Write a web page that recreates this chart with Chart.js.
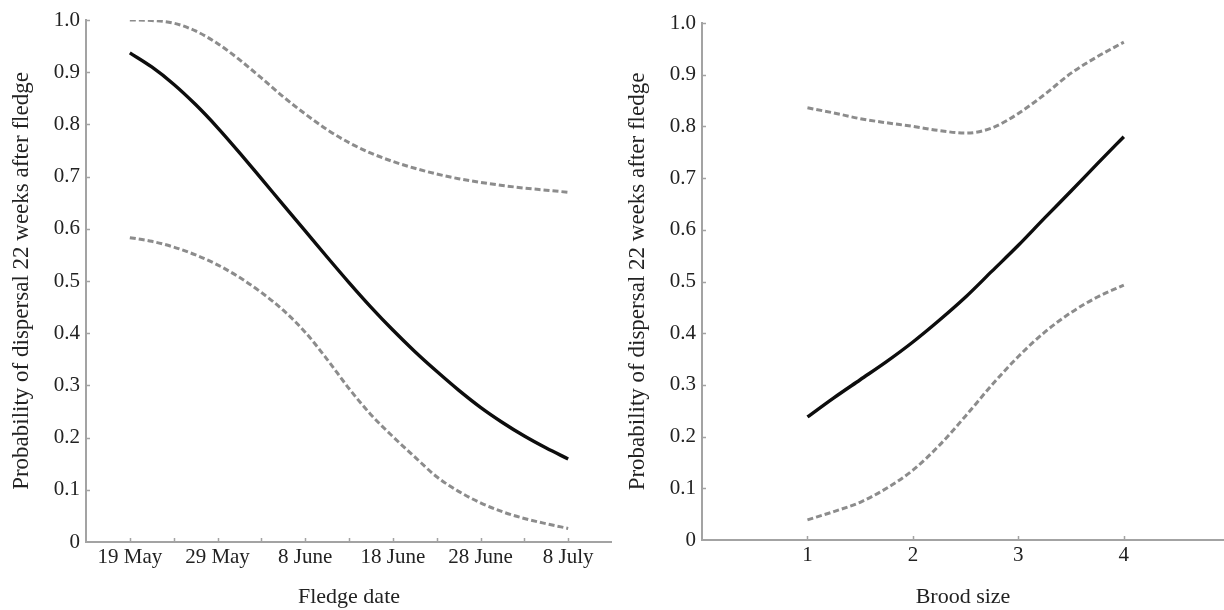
<!DOCTYPE html>
<html>
<head>
<meta charset="utf-8">
<script src="https://cdn.jsdelivr.net/npm/chart.js@4.4.1/dist/chart.umd.min.js"></script>
<style>
  html, body { margin: 0; padding: 0; background: #fff; }
  #wrap { position: relative; width: 1224px; height: 610px; overflow: hidden; }
  .panel { position: absolute; top: 0; width: 612px; height: 610px; }
  #left { left: 0; }
  #right { left: 612px; }
</style>
</head>
<body>
<div id="wrap">
  <div class="panel" id="left"><canvas id="dateChart" width="612" height="610"></canvas></div>
  <div class="panel" id="right"><canvas id="broodChart" width="612" height="610"></canvas></div>
</div>
<script>
// left panel: days after 19 May
const dateDays = [0, 2.5, 5, 7.5, 10, 12.5, 15, 17.5, 20, 22.5, 25, 27.5, 30, 32.5, 35, 37.5, 40, 42.5, 45, 47.5, 50];
const dateFit = [0.937, 0.910, 0.877, 0.838, 0.794, 0.746, 0.696, 0.646, 0.596, 0.546, 0.497, 0.450, 0.406, 0.365, 0.327, 0.291, 0.258, 0.229, 0.203, 0.180, 0.159];
const dateUpper = [1.000, 0.999, 0.994, 0.979, 0.955, 0.924, 0.889, 0.853, 0.820, 0.790, 0.765, 0.745, 0.729, 0.716, 0.705, 0.696, 0.689, 0.683, 0.678, 0.674, 0.670];
const dateLower = [0.583, 0.576, 0.565, 0.550, 0.531, 0.507, 0.478, 0.444, 0.402, 0.350, 0.294, 0.244, 0.202, 0.163, 0.125, 0.097, 0.075, 0.058, 0.045, 0.035, 0.026];
const dateTickDays = [0, 5, 10, 15, 20, 25, 30, 35, 40, 45, 50];
const dateLabelDays = [0, 10, 20, 30, 40, 50];
const dateLabels = ["19 May", "29 May", "8 June", "18 June", "28 June", "8 July"];

// right panel: brood size
const broodSizes = [1, 1.25, 1.5, 1.75, 2, 2.25, 2.5, 2.75, 3, 3.25, 3.5, 3.75, 4];
const broodFit = [0.238, 0.275, 0.310, 0.345, 0.383, 0.425, 0.470, 0.520, 0.570, 0.623, 0.675, 0.728, 0.780];
const broodUpper = [0.836, 0.826, 0.815, 0.807, 0.800, 0.792, 0.787, 0.797, 0.825, 0.862, 0.903, 0.935, 0.963];
const broodLower = [0.039, 0.055, 0.073, 0.100, 0.135, 0.183, 0.240, 0.300, 0.355, 0.402, 0.440, 0.470, 0.493];
const broodTicks = [1, 2, 3, 4];

const probTicks = [0, 0.1, 0.2, 0.3, 0.4, 0.5, 0.6, 0.7, 0.8, 0.9, 1.0];
const yTitle = "Probability of dispersal 22 weeks after fledge";

const AXIS_GREY = "#a3a3a3";
const TEXT = "#222";
const FONT = "'Liberation Serif', 'DejaVu Serif', serif";

// tick marks drawn inward from the axis lines
const innerTicks = {
  id: "innerTicks",
  afterDatasetsDraw(chart) {
    const { ctx, chartArea, scales } = chart;
    ctx.save();
    ctx.strokeStyle = AXIS_GREY;
    ctx.lineWidth = 1.5;
    ctx.beginPath();
    scales.x.ticks.forEach((t) => {
      const px = Math.round(scales.x.getPixelForValue(t.value)) + 0.5;
      ctx.moveTo(px, chartArea.bottom);
      ctx.lineTo(px, chartArea.bottom - 4);
    });
    scales.y.ticks.forEach((t) => {
      if (t.value === 0) return;
      const py = Math.round(scales.y.getPixelForValue(t.value)) + 0.5;
      ctx.moveTo(chartArea.left, py);
      ctx.lineTo(chartArea.left + 4, py);
    });
    ctx.stroke();
    ctx.restore();
  },
};

function series(xs, ys, dashed) {
  return {
    data: xs.map((x, i) => ({ x, y: ys[i] })),
    borderColor: dashed ? "#8c8c8c" : "#0d0d0d",
    borderWidth: dashed ? 3 : 3.4,
    borderDash: dashed ? [6, 3] : [],
    cubicInterpolationMode: "monotone",
    pointRadius: 0,
    fill: false,
  };
}

function makeChart(canvasId, cfg) {
  return new Chart(document.getElementById(canvasId), {
    type: "line",
    data: {
      datasets: [
        series(cfg.xs, cfg.upper, true),
        series(cfg.xs, cfg.lower, true),
        series(cfg.xs, cfg.fit, false),
      ],
    },
    options: {
      responsive: false,
      animation: false,
      devicePixelRatio: 1,
      layout: { padding: cfg.padding },
      plugins: { legend: { display: false }, tooltip: { enabled: false } },
      scales: {
        x: {
          type: "linear",
          min: cfg.xMin,
          max: cfg.xMax,
          afterBuildTicks: (s) => { s.ticks = cfg.xTicks.map((v) => ({ value: v })); },
          afterFit: (s) => { s.height = cfg.xHeight; },
          grid: { display: true, drawOnChartArea: false, drawTicks: false },
          border: { display: true, color: AXIS_GREY, width: 2 },
          ticks: {
            autoSkip: false,
            maxRotation: 0,
            padding: 3,
            color: TEXT,
            font: { family: FONT, size: 21 },
            callback: cfg.xLabel,
          },
          title: {
            display: true,
            text: cfg.xTitle,
            color: TEXT,
            font: { family: FONT, size: 22 },
            padding: { top: 0, bottom: 0 },
          },
        },
        y: {
          min: 0,
          max: 1,
          afterBuildTicks: (s) => { s.ticks = probTicks.map((v) => ({ value: v })); },
          afterFit: (s) => { s.width = cfg.yWidth; },
          grid: { display: true, drawOnChartArea: false, drawTicks: false },
          border: { display: true, color: AXIS_GREY, width: 2 },
          ticks: {
            padding: 6,
            color: TEXT,
            font: { family: FONT, size: 21 },
            callback: (v) => (v === 0 ? "0" : v.toFixed(1)),
          },
          title: {
            display: true,
            text: yTitle,
            color: TEXT,
            font: { family: FONT, size: 23 },
            padding: { top: cfg.yTitlePad, bottom: 0 },
          },
        },
      },
    },
    plugins: [innerTicks],
  });
}

makeChart("dateChart", {
  xs: dateDays,
  fit: dateFit,
  upper: dateUpper,
  lower: dateLower,
  xMin: -5,
  xMax: 55,
  xTicks: dateTickDays,
  xLabel: (v) => {
    const i = dateLabelDays.indexOf(v);
    return i >= 0 ? dateLabels[i] : "";
  },
  xTitle: "Fledge date",
  xHeight: 68,
  yWidth: 86,
  yTitlePad: 8,
  padding: { top: 20, right: 0, left: 0, bottom: 0 },
});

makeChart("broodChart", {
  xs: broodSizes,
  fit: broodFit,
  upper: broodUpper,
  lower: broodLower,
  xMin: 0,
  xMax: 4.95,
  xTicks: broodTicks,
  xLabel: (v) => String(v),
  xTitle: "Brood size",
  xHeight: 70,
  yWidth: 90,
  yTitlePad: 12,
  padding: { top: 23, right: 0, left: 0, bottom: 0 },
});
</script>
</body>
</html>
